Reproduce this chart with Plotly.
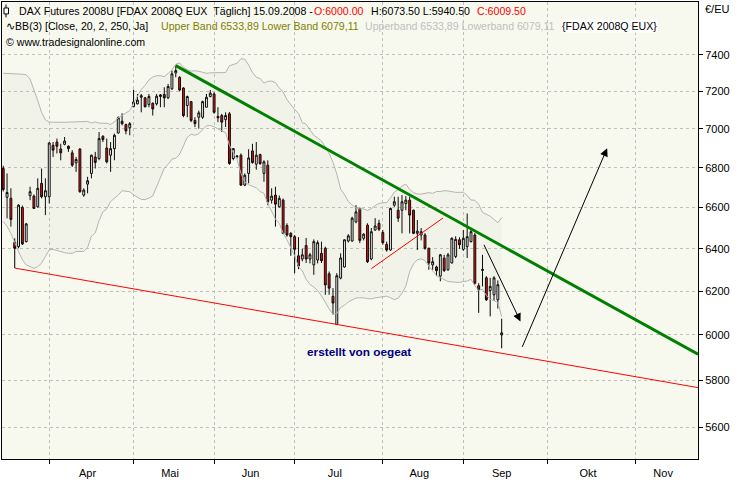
import math
import numpy as np
import pandas as pd
import plotly.graph_objects as go

# ---------------- data ----------------
first_day = "2008-03-12"
last_calendar_day = "2008-12-31"
holidays = ["2008-03-21", "2008-03-24", "2008-05-01"]
month_names = ["Apr", "Mai", "Jun", "Jul", "Aug", "Sep", "Okt", "Nov"]
month_starts = ["2008-04-01", "2008-05-01", "2008-06-01", "2008-07-01",
                "2008-08-01", "2008-09-01", "2008-10-01", "2008-11-01", "2008-12-01"]

opens = [6796, 6651, 6646, 6431, 6410, 6601, 6434, 6659, 6657, 6604,
         6721, 6654, 6654, 6915, 6932, 6896, 6920, 6910, 6876, 6825,
         6896, 6662, 6717, 6771, 6855, 6847, 6962, 6901, 6864, 6898,
         6979, 7041, 7023, 7007, 7118, 7133, 7168, 7165, 7129, 7136,
         7133, 7172, 7183, 7165, 7214, 7300, 7276, 7218, 7124, 7145,
         7045, 7062, 7062, 7115, 7172, 7186, 7066, 7071, 7049, 7080,
         6847, 6860, 6864, 6712, 6771, 6886, 6818, 6867, 6771, 6813,
         6637, 6662, 6604, 6637, 6512, 6474, 6458, 6366, 6351, 6415,
         6351, 6323, 6346, 6378, 6402, 6281, 6176, 6047, 6261, 6313,
         6437, 6437, 6530, 6596, 6450, 6514, 6351, 6490, 6523, 6478,
         6421, 6394, 6612, 6587, 6587, 6620, 6637, 6587, 6474, 6466,
         6466, 6402, 6323, 6313, 6270, 6355, 6300, 6332, 6363, 6443,
         6397, 6410, 6434, 6466, 6225, 6302, 6262, 6203, 6183, 6160, 6000.0]
highs = [6810, 6771, 6696, 6450, 6617, 6610, 6525, 6704, 6665, 6746,
         6796, 6746, 6932, 6932, 6950, 6923, 6958, 6915, 6890, 6855,
         6900, 6696, 6754, 6867, 6881, 6984, 6967, 6950, 6932, 6976,
         7066, 7083, 7028, 7036, 7209, 7186, 7186, 7170, 7186, 7141,
         7186, 7186, 7222, 7240, 7313, 7340, 7282, 7222, 7177, 7147,
         7062, 7097, 7150, 7186, 7207, 7195, 7115, 7080, 7088, 7090,
         6901, 6864, 6873, 6771, 6895, 6923, 6932, 6872, 6838, 6838,
         6696, 6704, 6660, 6645, 6523, 6480, 6466, 6456, 6400, 6452,
         6380, 6445, 6440, 6434, 6410, 6292, 6214, 6284, 6378, 6445,
         6470, 6555, 6612, 6600, 6475, 6523, 6500, 6548, 6540, 6490,
         6434, 6600, 6654, 6654, 6662, 6657, 6654, 6590, 6539, 6500,
         6475, 6405, 6360, 6320, 6375, 6371, 6380, 6455, 6460, 6455,
         6490, 6571, 6498, 6475, 6237, 6371, 6270, 6262, 6270, 6250, 6073.5]
lows = [6680, 6547, 6507, 6308, 6402, 6418, 6430, 6637, 6594, 6600,
        6646, 6563, 6620, 6855, 6873, 6838, 6915, 6881, 6804, 6779,
        6674, 6654, 6671, 6746, 6796, 6838, 6932, 6822, 6779, 6838,
        6976, 7019, 6972, 6967, 7115, 7130, 7088, 7113, 7115, 7071,
        7124, 7115, 7115, 7160, 7207, 7276, 7200, 7062, 7062, 7036,
        7010, 7002, 7053, 7115, 7168, 7080, 7036, 6984, 7010, 6815,
        6838, 6847, 6710, 6707, 6721, 6821, 6790, 6815, 6729, 6612,
        6620, 6507, 6600, 6470, 6458, 6366, 6284, 6303, 6340, 6332,
        6330, 6276, 6330, 6332, 6183, 6183, 6092, 6045, 6255, 6310,
        6430, 6434, 6523, 6427, 6440, 6332, 6345, 6487, 6485, 6420,
        6386, 6390, 6604, 6530, 6474, 6587, 6474, 6470, 6394, 6440,
        6395, 6300, 6300, 6270, 6246, 6290, 6295, 6330, 6355, 6400,
        6390, 6356, 6430, 6230, 6100, 6222, 6155, 6084, 6155, 6120, 5940.5]
closes = [6690, 6675, 6542, 6402, 6612, 6423, 6520, 6679, 6596, 6696,
          6654, 6684, 6927, 6890, 6910, 6876, 6937, 6898, 6813, 6842,
          6679, 6687, 6734, 6864, 6827, 6950, 6945, 6830, 6898, 6967,
          7059, 7028, 6990, 7028, 7143, 7153, 7177, 7118, 7172, 7106,
          7174, 7181, 7165, 7226, 7295, 7313, 7207, 7071, 7172, 7045,
          7028, 7085, 7145, 7168, 7190, 7088, 7059, 7036, 7071, 6822,
          6898, 6858, 6712, 6762, 6850, 6826, 6864, 6821, 6830, 6629,
          6657, 6617, 6646, 6474, 6466, 6458, 6397, 6318, 6371, 6351,
          6371, 6434, 6429, 6343, 6229, 6214, 6145, 6272, 6356, 6443,
          6462, 6548, 6579, 6440, 6470, 6338, 6482, 6510, 6494, 6429,
          6394, 6596, 6629, 6548, 6629, 6637, 6563, 6474, 6485, 6482,
          6402, 6332, 6338, 6296, 6371, 6296, 6371, 6450, 6445, 6419,
          6450, 6458, 6482, 6237, 6206, 6298, 6160, 6222, 6262, 6230, 6009.5]

# Bollinger band values for the bars before a full 20-bar window
upper_early = [7298, 7296, 7296, 7294, 7294, 7293, 7290, 7267, 7213, 7150,
               7088, 7048, 7036, 7035, 7035, 7035, 7035, 7036, 7037]
lower_early = [6532, 6508, 6474, 6427, 6386, 6347, 6323, 6315, 6307, 6315,
               6331, 6363, 6394, 6397, 6391, 6386, 6381, 6378, 6378]
bb_length = 20
bb_mult = 2

# drawn trend lines (bar number, price)
green_bars = [45, 181.2]
green_values = [7340, 5914]
red_bars = [3, 181.2]
red_values = [6308, 5768]
red_short_bars = [96.0, 114.7]
red_short_values = [6305, 6549]
# drawn arrows (tail bar, tail price, head bar, head price)
arrow_down = [125.2, 6426, 134.9, 6061]
arrow_up = [135.2, 5940, 157.5, 6900]
note_text = "erstellt von oegeat"
note_pos = [92.7, 5922]

y_ticks = [5600, 5800, 6000, 6200, 6400, 6600, 6800, 7000, 7200, 7400]
x_range = [-0.32, 181.2]
y_range = [5468, 7698]

# header text pieces: (text, colour, left pixel, centre row pixel)
header_parts = [
    ("DAX Futures 2008U [FDAX 2008Q EUX&nbsp;&nbsp;Täglich] 15.09.2008 -", "#000000", 16.5, 10.5),
    ("O:6000.00", "#FF0000", 311.5, 10.5),
    ("H:6073.50 L:5940.50", "#000000", 368.5, 10.5),
    ("C:6009.50", "#FF0000", 475, 10.5),
    ("∿BB(3) [Close, 20, 2, 250, Ja]", "#000000", 3, 25),
    ("Upper Band 6533,89 Lower Band 6079,11", "#808000", 158, 25),
    ("Upperband 6533,89 Lowerband 6079,11", "#C0C0C0", 363, 25),
    ("© www.tradesignalonline.com", "#000000", 3, 41.5),
]
header_box = ("{FDAX 2008Q EUX}", 561, 25)

# ---------------- derived ----------------
dates = pd.bdate_range(first_day, last_calendar_day, freq="C", holidays=holidays)
n = len(closes)
bars = np.arange(n)

cl = pd.Series(closes, dtype=float)
mid = cl.rolling(bb_length).mean()
sd = cl.rolling(bb_length).std(ddof=0)
upper = (mid + bb_mult * sd).to_numpy()
lower = (mid - bb_mult * sd).to_numpy()
upper[:len(upper_early)] = upper_early
lower[:len(lower_early)] = lower_early

start_idx = [int(np.searchsorted(dates.values, np.datetime64(m))) for m in month_starts]
tick_starts = start_idx[:-1]
label_pos = []
for i in range(len(month_names)):
    a = start_idx[i]
    b = min(start_idx[i + 1], x_range[1])
    label_pos.append((a + b) / 2 - 1)

FONT = "Liberation Sans, Arial, sans-serif"
W, H = 740, 480
ML, MR, MT, MB = 1, 42, 1, 20
PW, PH = W - ML - MR, H - MT - MB


def px(xp):
    return (xp - ML) / PW


def py(yp):
    return (H - MB - yp) / PH


fig = go.Figure()
fig.add_trace(go.Scatter(x=bars, y=upper, mode="lines",
                         line=dict(color="#B4B4B4", width=1), hoverinfo="skip"))
fig.add_trace(go.Scatter(x=bars, y=lower, mode="lines",
                         line=dict(color="#B4B4B4", width=1), fill="tonexty",
                         fillcolor="rgba(170,175,160,0.07)", hoverinfo="skip"))
fig.add_trace(go.Candlestick(
    x=bars, open=opens, high=highs, low=lows, close=closes,
    increasing=dict(line=dict(color="black", width=1), fillcolor="white"),
    decreasing=dict(line=dict(color="black", width=1), fillcolor="#F00000"),
    whiskerwidth=0))
fig.add_trace(go.Scatter(x=green_bars, y=green_values, mode="lines",
                         line=dict(color="#008000", width=3), hoverinfo="skip"))
fig.add_trace(go.Scatter(x=red_bars, y=red_values, mode="lines",
                         line=dict(color="#FF0000", width=1), hoverinfo="skip"))
fig.add_trace(go.Scatter(x=red_short_bars, y=red_short_values, mode="lines",
                         line=dict(color="#FF0000", width=1), hoverinfo="skip"))

HF = 10.6
ann = []
for a in (arrow_down, arrow_up):
    ann.append(dict(x=a[2], y=math.log10(a[3]), ax=a[0], ay=math.log10(a[1]),
                    xref="x", yref="y", axref="x", ayref="y", text="",
                    showarrow=True, arrowhead=2, arrowsize=1.6, arrowwidth=1,
                    arrowcolor="black"))
ann.append(dict(x=note_pos[0], y=math.log10(note_pos[1]), xref="x", yref="y",
                text="<b>" + note_text + "</b>", showarrow=False,
                font=dict(family=FONT, size=11.8, color="#000080")))

for text, color, xl, yc in header_parts:
    ann.append(dict(x=px(xl), y=py(yc), xref="paper", yref="paper", text=text,
                    xanchor="left", yanchor="middle", showarrow=False,
                    font=dict(family=FONT, size=HF, color=color)))
ann.append(dict(x=px(header_box[1]), y=py(header_box[2]), xref="paper", yref="paper",
                text=header_box[0], xanchor="left", yanchor="middle", showarrow=False,
                bgcolor="white", borderpad=0,
                font=dict(family=FONT, size=HF, color="black")))
ann.append(dict(x=px(703), y=py(8), xref="paper", yref="paper", text="€/EU",
                xanchor="left", yanchor="middle", showarrow=False,
                font=dict(family=FONT, size=11, color="black")))

shapes = [
    dict(type="line", xref="paper", yref="paper", x0=px(5), x1=px(5),
         y0=py(3.5), y1=py(16.5), line=dict(color="black", width=1)),
    dict(type="rect", xref="paper", yref="paper", x0=px(3), x1=px(7.5),
         y0=py(7), y1=py(13), line=dict(color="black", width=1), fillcolor="white"),
]

fig.update_layout(
    width=W, height=H, margin=dict(l=ML, r=MR, t=MT, b=MB),
    paper_bgcolor="white", plot_bgcolor="#F7F9EF",
    showlegend=False, annotations=ann, shapes=shapes,
    font=dict(family=FONT, size=11, color="black"),
    xaxis=dict(range=x_range, rangeslider=dict(visible=False),
               tickmode="array", tickvals=label_pos, ticktext=month_names,
               ticks="outside", ticklen=4, tickcolor="rgba(0,0,0,0)",
               showgrid=False, zeroline=False, showline=True, linecolor="black",
               linewidth=1, mirror=True,
               tickfont=dict(family=FONT, size=11, color="black"),
               minor=dict(tickmode="array", tickvals=tick_starts, ticks="outside",
                          ticklen=4, tickcolor="black", showgrid=True,
                          gridcolor="#BFBFBF", griddash="dot", gridwidth=1)),
    yaxis=dict(type="log", side="right",
               range=[math.log10(y_range[0]), math.log10(y_range[1])],
               tickmode="array", tickvals=y_ticks, ticktext=[str(v) for v in y_ticks],
               ticks="outside", ticklen=4, tickcolor="black",
               showgrid=True, gridcolor="#BFBFBF", griddash="dot", gridwidth=1,
               zeroline=False, showline=True, linecolor="black", linewidth=1, mirror=True,
               tickfont=dict(family=FONT, size=11, color="black")),
)

fig.write_html("out.html", config={"displayModeBar": False},
               post_script="document.body.style.margin='0';document.body.style.overflow='hidden';")
